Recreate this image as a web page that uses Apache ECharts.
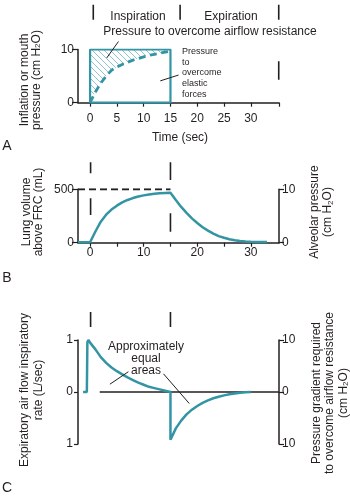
<!DOCTYPE html>
<html><head><meta charset="utf-8">
<script src="https://cdn.jsdelivr.net/npm/echarts@6/dist/echarts.min.js"></script>
<style>html,body{margin:0;padding:0;background:#fff}#c{width:350px;height:497px}</style>
</head><body><div id="c"></div>
<script>
const TEAL = '#3394a3';
const INK = '#231f20';
const FONT = "'Liberation Sans', Arial, Helvetica, sans-serif";

// ---------- Panel A data ----------
const timeTicksA = [0, 5, 10, 15, 20, 25, 30];
const elasticTime = [0, 1, 2, 3, 4, 5, 6, 7, 8, 9, 10, 11, 12, 13, 14, 15];
const elasticPressure = [0, 2.0, 3.7, 5.0, 6.1, 6.7, 7.2, 7.6, 8.0, 8.3, 8.6, 8.9, 9.1, 9.3, 9.5, 9.7];
const appliedTime = [0, 0, 15, 15, 0];
const appliedPressure = [0, 10, 10, 0, 0];
const plateauPressure = 10;
const inspEnd = 15;

// ---------- Panel B data ----------
const timeTicksB = [0, 5, 10, 15, 20, 25, 30];
const timeLabelsB = [0, 10, 20, 30];
const volumeTime = [-2.25, 0, 1, 2, 3, 4, 5, 6, 7, 8, 9, 10, 11, 12, 13, 14, 15,
  16, 17, 18, 19, 20, 21, 22, 23, 24, 25, 26, 27, 28, 29, 30, 31, 32, 33];
const volumeML = [4, 4, 105, 197, 262, 310, 347, 377, 400, 418, 432, 443, 451, 459, 463, 466, 468,
  400, 335, 280, 228, 185, 145, 113, 85, 62, 46, 32, 23, 16, 12, 9, 7, 6, 6];
const tidalVolume = 500;

// ---------- Panel C data ----------
const flowTime = [-1.3, -0.6, -0.5, -0.3, 0, 1, 2, 3, 4, 5, 6, 7, 8, 9, 10, 11, 12, 13, 14, 15,
  15, 16, 17, 18, 19, 20, 21, 22, 23, 24, 25, 26, 27, 28, 29, 30];
const flowLps = [0, 0, 0.96, 1.0, 0.95, 0.82, 0.67, 0.56, 0.47, 0.40, 0.34, 0.28, 0.23, 0.18, 0.14, 0.10, 0.075, 0.05, 0.025, 0,
  -0.92, -0.70, -0.55, -0.43, -0.34, -0.27, -0.21, -0.16, -0.12, -0.09, -0.065, -0.045, -0.03, -0.015, -0.005, 0];
const zeroLineStart = 1.8;

// annotation segments in data units: [t1, v1, t2, v2]
const markersA = [[0.6, 15.6, 0.6, 18.4], [16.8, 15.6, 16.8, 18.4], [35.2, 15.6, 35.2, 18.4], [35.2, 4.3, 35.2, 7.8]];
const pointersA = [[5.3, 11.5, 3.1, 8.4], [13.1, 4.1, 16.5, 5.2]];
const markersB = [[0.1, 650, 0.1, 753], [0.1, 259, 0.1, 416], [15, 587, 15, 753], [15, 103, 15, 275]];
const markersC = [[0.1, 1.25, 0.1, 1.54], [15, 1.25, 15, 1.54]];
const pointersC = [[3.7, 0.15, 7.15, 0.39], [13.7, 0.35, 18.5, -0.22]];

const TMIN = -2.25, TMAX = 35.25;

// hatch pattern
const pat = document.createElement('canvas');
pat.width = 6; pat.height = 6;
const pg = pat.getContext('2d');
pg.fillStyle = '#8fc4cd';
for (let i = 0; i < 6; i++) pg.fillRect(i, i, 1, 1);

const zip = (a, b) => a.map((v, i) => [v, b[i]]);

const axisLineStyle = { color: INK, width: 1.5 };
const labelStyle = { color: INK, fontSize: 12, fontFamily: FONT };

function xAxisDef(grid, ticks, labels, margin, extraTick) {
  return {
    gridIndex: grid, type: 'value', min: TMIN, max: TMAX,
    axisLine: { show: true, onZero: false, lineStyle: axisLineStyle },
    axisTick: { show: true, length: 4, lineStyle: { color: INK, width: 1.2 }, customValues: extraTick ? ticks.concat([TMAX]) : ticks },
    axisLabel: Object.assign({ customValues: labels, margin: margin }, labelStyle),
    splitLine: { show: false }
  };
}
function yAxisDef(grid, pos, min, max, interval, tickLen, margin, fmt) {
  return {
    gridIndex: grid, type: 'value', position: pos, min: min, max: max, interval: interval,
    axisLine: { show: true, onZero: false, lineStyle: axisLineStyle },
    axisTick: { show: true, length: tickLen, lineStyle: { color: INK, width: 1.2 } },
    axisLabel: Object.assign({ margin: margin, formatter: fmt || (v => String(v)) }, labelStyle),
    splitLine: { show: false }
  };
}

function segSeries(segs, xi, yi, color, width) {
  return segs.map(s => ({
    type: 'line', xAxisIndex: xi, yAxisIndex: yi, data: [[s[0], s[1]], [s[2], s[3]]],
    symbol: 'none', clip: false, silent: true,
    lineStyle: { color: color, width: width }, z: 5
  }));
}

const series = [
  // Panel A hatched area between elastic curve and the plateau pressure
  { type: 'custom', xAxisIndex: 0, yAxisIndex: 0, data: zip(elasticTime, elasticPressure), z: 2, silent: true,
    renderItem: function (params, api) {
      if (params.dataIndex !== 0) return null;
      const pts = [api.coord([elasticTime[0], plateauPressure]), api.coord([inspEnd, plateauPressure])];
      for (let i = elasticTime.length - 1; i >= 0; i--) pts.push(api.coord([elasticTime[i], elasticPressure[i]]));
      return { type: 'polygon', shape: { points: pts }, style: { fill: { image: pat, repeat: 'repeat' }, stroke: null } };
    } },
  { type: 'line', xAxisIndex: 0, yAxisIndex: 0, data: zip(elasticTime, elasticPressure),
    symbol: 'none', lineStyle: { color: TEAL, width: 2.8, type: [7, 4.5] }, z: 4 },
  { type: 'line', xAxisIndex: 0, yAxisIndex: 0, data: zip(appliedTime, appliedPressure),
    symbol: 'none', lineStyle: { color: TEAL, width: 2.2 }, z: 3 },
  // Panel B
  { type: 'line', xAxisIndex: 1, yAxisIndex: 1, data: [[TMIN, tidalVolume], [inspEnd, tidalVolume]],
    symbol: 'none', lineStyle: { color: INK, width: 2, type: [7, 4] }, z: 3 },
  { type: 'line', xAxisIndex: 1, yAxisIndex: 1, data: zip(volumeTime, volumeML),
    symbol: 'none', lineStyle: { color: TEAL, width: 2.5 }, z: 4 },
  // Panel C
  { type: 'line', xAxisIndex: 2, yAxisIndex: 3, data: [[zeroLineStart, 0], [TMAX, 0]],
    symbol: 'none', lineStyle: { color: INK, width: 1.5 }, z: 3 },
  { type: 'line', xAxisIndex: 2, yAxisIndex: 3, data: zip(flowTime, flowLps),
    symbol: 'none', lineStyle: { color: TEAL, width: 2.5 }, z: 4 }
].concat(
  segSeries(markersA, 0, 0, INK, 1.6),
  segSeries(pointersA, 0, 0, INK, 1),
  segSeries(markersB, 1, 1, INK, 1.6),
  segSeries(markersC, 2, 3, INK, 1.6),
  segSeries(pointersC, 2, 3, INK, 1)
);

function txt(x, y, text, size, o) {
  o = o || {};
  return {
    type: 'text', x: x, y: y, rotation: o.rot || 0, z: 10,
    style: {
      text: text, x: 0, y: 0, fill: INK,
      font: size + 'px ' + FONT, fontSize: size, fontFamily: FONT,
      textAlign: o.align || 'center', align: o.align || 'center',
      textVerticalAlign: 'middle', verticalAlign: 'middle',
      lineHeight: o.lh || size + 1,
      rich: { s: { fontSize: 8, fontFamily: FONT, fill: INK, verticalAlign: 'bottom', lineHeight: o.lh || size + 1 } }
    }
  };
}
const R = Math.PI / 2;
const graphics = [
  txt(138, 17, 'Inspiration', 12),
  txt(231, 17, 'Expiration', 12),
  txt(210, 32, 'Pressure to overcome airflow resistance', 12),
  txt(182, 73, 'Pressure\nto\novercome\nelastic\nforces', 9, { align: 'left', lh: 10.6 }),
  txt(30.5, 80, 'Inflation or mouth\npressure (cm H{s|2}O)', 12, { rot: R, lh: 11.5 }),
  txt(180, 138, 'Time (sec)', 12),
  txt(7, 146, 'A', 14),
  txt(32.5, 212, 'Lung volume\nabove FRC (mL)', 12, { rot: R, lh: 11.6 }),
  txt(321.5, 212, 'Alveolar pressure\n(cm H{s|2}O)', 12, { rot: R, lh: 13 }),
  txt(7, 278, 'B', 14),
  txt(146, 358.5, 'Approximately\nequal\nareas', 12, { lh: 11.7 }),
  txt(32, 390, 'Expiratory air flow inspiratory\nrate (L/sec)', 12, { rot: R, lh: 13.7 }),
  txt(330, 393, 'Pressure gradient required\nto overcome airflow resistance\n(cm H{s|2}O)', 12, { rot: R, lh: 13.3 }),
  txt(7, 488, 'C', 14)
];

const chart = echarts.init(document.getElementById('c'), null, { renderer: 'canvas' });
chart.setOption({
  animation: false,
  backgroundColor: '#fff',
  textStyle: { fontFamily: FONT },
  grid: [
    { left: 78, top: 49.5, width: 201, height: 53.2, outerBoundsMode: 'none' },
    { left: 78, top: 189.3, width: 201, height: 53.4, outerBoundsMode: 'none' },
    { left: 78, top: 340, width: 201, height: 104, outerBoundsMode: 'none' }
  ],
  xAxis: [
    xAxisDef(0, timeTicksA, timeTicksA, 10, true),
    xAxisDef(1, timeTicksB, timeLabelsB, 4, false),
    { gridIndex: 2, type: 'value', min: TMIN, max: TMAX, show: false }
  ],
  yAxis: [
    yAxisDef(0, 'left', 0, plateauPressure, 10, 6, 4),
    yAxisDef(1, 'left', 0, tidalVolume, 500, 6, 4),
    yAxisDef(1, 'right', 0, 10, 10, 5, 3),
    yAxisDef(2, 'left', -1, 1, 1, 4, 5, v => String(Math.abs(v))),
    yAxisDef(2, 'right', -10, 10, 10, 5, 3, v => String(Math.abs(v)))
  ],
  series: series,
  graphic: graphics
});
</script></body></html>
